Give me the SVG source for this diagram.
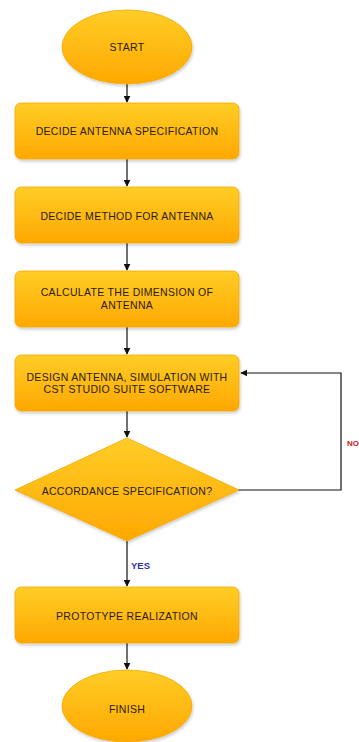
<svg xmlns="http://www.w3.org/2000/svg" width="359" height="742" viewBox="0 0 359 742">
<defs>
<linearGradient id="g" x1="0" y1="0" x2="0" y2="1">
<stop offset="0" stop-color="#ffcd28"/>
<stop offset="1" stop-color="#ffa800"/>
</linearGradient>
<filter id="sh" x="-10%" y="-10%" width="130%" height="140%">
<feGaussianBlur in="SourceAlpha" stdDeviation="1.5"/>
<feOffset dx="1" dy="2" result="b"/>
<feComponentTransfer><feFuncA type="linear" slope="0.2"/></feComponentTransfer>
<feMerge><feMergeNode/><feMergeNode in="SourceGraphic"/></feMerge>
</filter>
<marker id="arr" viewBox="0 0 10 10" refX="9" refY="5" markerWidth="7" markerHeight="7" markerUnits="userSpaceOnUse" orient="auto">
<path d="M0,0 L10,5 L0,10 z" fill="#111"/>
</marker>
</defs>
<style>
.n{fill:url(#g);stroke:#f5a800;stroke-width:0.8;filter:url(#sh)}
.t{font-family:"Liberation Sans",Arial,sans-serif;font-size:10.5px;fill:#2a2000;text-anchor:middle;dominant-baseline:central;letter-spacing:0.3px}
.c{fill:none;stroke:#111;stroke-width:1.2;marker-end:url(#arr)}
</style>
<rect width="359" height="742" fill="#fff"/>
<g id="connectors">
<path class="c" d="M127,84 V102"/>
<path class="c" d="M127,159 V186"/>
<path class="c" d="M127,243 V270"/>
<path class="c" d="M127,327 V354"/>
<path class="c" d="M127,411 V437"/>
<path class="c" d="M127,541 V586"/>
<path class="c" d="M127,643 V669"/>
<path class="c" d="M238,490 H341 V373 H241"/>
<text x="131" y="565" style="font-family:'Liberation Sans',Arial,sans-serif;font-size:9.5px;font-weight:bold;fill:#3030a0;dominant-baseline:central">YES</text>
<text x="347" y="443" style="font-family:'Liberation Sans',Arial,sans-serif;font-size:8px;font-weight:bold;fill:#cc2020;dominant-baseline:central">NO</text>
</g>
<g id="start">
<ellipse class="n" cx="127" cy="47" rx="65" ry="37"/>
<text class="t" x="127" y="47">START</text>
</g>
<g id="spec">
<rect class="n" x="15" y="103" width="224" height="56" rx="6"/>
<text class="t" x="127" y="131">DECIDE ANTENNA SPECIFICATION</text>
</g>
<g id="method">
<rect class="n" x="15" y="187" width="224" height="56" rx="6"/>
<text class="t" x="127" y="216">DECIDE METHOD FOR ANTENNA</text>
</g>
<g id="calc">
<rect class="n" x="15" y="271" width="224" height="56" rx="6"/>
<text class="t" x="127" y="292">CALCULATE THE DIMENSION OF</text>
<text class="t" x="127" y="305">ANTENNA</text>
</g>
<g id="design">
<rect class="n" x="15" y="355" width="224" height="56" rx="6"/>
<text class="t" x="127" y="377">DESIGN ANTENNA, SIMULATION WITH</text>
<text class="t" x="127" y="389">CST STUDIO SUITE SOFTWARE</text>
</g>
<g id="decision">
<path class="n" d="M127,438 L239,490 L127,541 L15,490 Z"/>
<text class="t" x="127" y="491">ACCORDANCE SPECIFICATION?</text>
</g>
<g id="proto">
<rect class="n" x="15" y="587" width="224" height="56" rx="6"/>
<text class="t" x="127" y="616">PROTOTYPE REALIZATION</text>
</g>
<g id="finish">
<ellipse class="n" cx="127" cy="706" rx="65" ry="36"/>
<text class="t" x="127" y="709">FINISH</text>
</g>
</svg>
